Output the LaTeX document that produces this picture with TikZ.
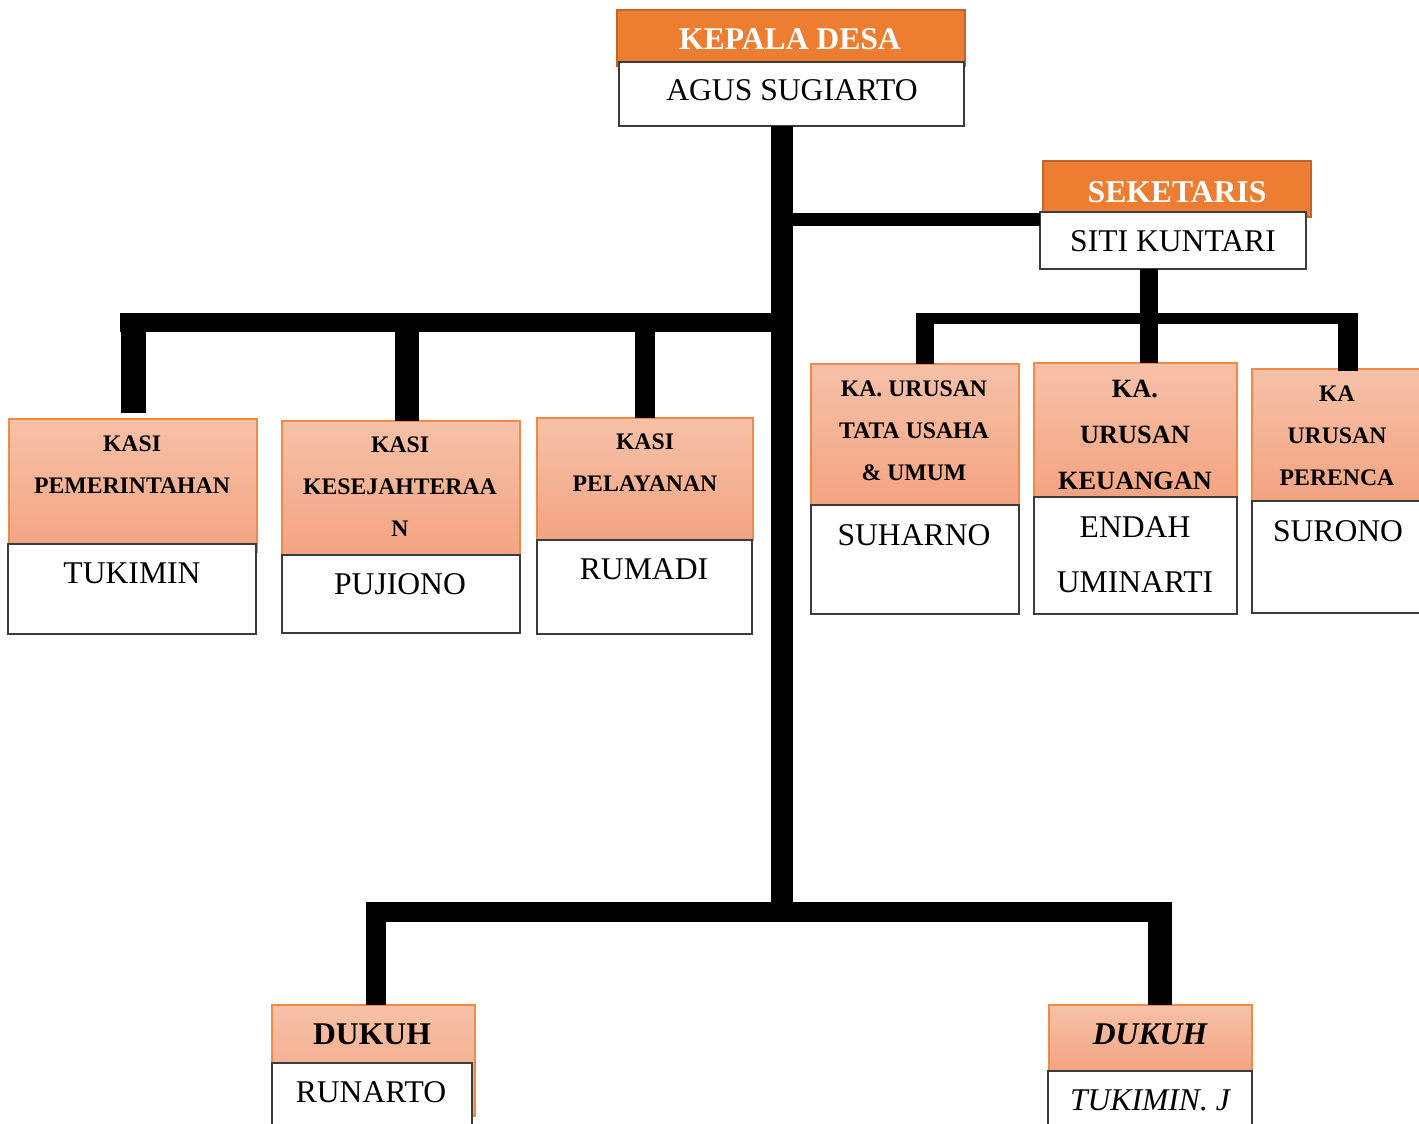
\documentclass[tikz,border=0pt]{standalone}
\usepackage{fontspec}
\setmainfont{Liberation Serif}
\usetikzlibrary{calc}

\definecolor{hdrorange}{HTML}{ED7D31}
\definecolor{hdredge}{HTML}{C0652E}
\definecolor{salmontop}{HTML}{F6C1A8}
\definecolor{salmonbot}{HTML}{F3A482}
\definecolor{salmonedge}{HTML}{F08A45}
\definecolor{boxedge}{HTML}{3C3C3C}

\begin{document}
\begin{tikzpicture}[x=0.02cm, y=-0.02cm,
  sz/.style 2 args={anchor=north west, inner sep=0pt, outer sep=0pt,
    minimum width=#1*0.02cm, minimum height=#2*0.02cm},
  hdrbox/.style={fill=hdrorange, draw=hdredge, line width=1.2pt},
  jabbox/.style={top color=salmontop, bottom color=salmonbot, draw=salmonedge, line width=0.6pt},
  namabox/.style={fill=white, draw=boxedge, line width=0.9pt},
  bar/.style={line width=#1*0.02cm, draw=black},
  hdrlbl/.style={font=\fontsize{18}{22}\selectfont\bfseries, text=white, inner sep=0pt},
  namalbl/.style={font=\fontsize{18}{31.2}\selectfont, align=center, inner sep=0pt},
  jablbl/.style={font=\fontsize{13.5}{23.8}\selectfont\bfseries, align=center, inner sep=0pt},
]
\useasboundingbox (0,0) rectangle (1419,1124);

% Kepala desa dan sekretaris
\node[hdrbox, sz={348}{56}] (kadesH) at (617,10) {};
\node[namabox, sz={345}{64}] (kadesN) at (619,62) {};
\node[hdrbox, sz={268}{56}] (sekH) at (1043,161) {};
\node[namabox, sz={266}{57}] (sekN) at (1040,212) {};

% Kasi
\node[jabbox, sz={248}{133}] (pemH) at (9,419) {};
\node[namabox, sz={248}{90}] (pemN) at (8,544) {};
\node[jabbox, sz={238}{134}] (kesH) at (282,421) {};
\node[namabox, sz={238}{78}] (kesN) at (282,555) {};
\node[jabbox, sz={216}{122}] (pelH) at (537,418) {};
\node[namabox, sz={215}{94}] (pelN) at (537,540) {};

% Kaur
\node[jabbox, sz={208}{141}] (tuH) at (811,364) {};
\node[namabox, sz={208}{109}] (tuN) at (811,505) {};
\node[jabbox, sz={203}{134}] (keuH) at (1034,363) {};
\node[namabox, sz={203}{117}] (keuN) at (1034,497) {};
\node[jabbox, sz={180}{132}] (perH) at (1252,369) {};
\node[namabox, sz={180}{112}] (perN) at (1252,501) {};

% Dukuh
\node[jabbox, sz={203}{111}] (dk1H) at (272,1005) {};
\node[namabox, sz={200}{70}] (dk1N) at (272,1063) {};
\node[jabbox, sz={203}{66}] (dk2H) at (1049,1005) {};
\node[namabox, sz={204}{70}] (dk2N) at (1048,1071) {};

% Labels
\node[hdrlbl] (kadesL) at (790,39) {KEPALA DESA};
\node[namalbl] (agus) at (792,90) {AGUS SUGIARTO};
\node[hdrlbl] (sekL) at (1177,192) {SEKETARIS};
\node[namalbl] (siti) at (1173,241) {SITI KUNTARI};

\node[jablbl] (pemL) at (132,464.5) {KASI\\PEMERINTAHAN};
\node[namalbl] (tukimin) at (132,573) {TUKIMIN};
\node[jablbl] (kesL) at (400,486.5) {KASI\\KESEJAHTERAA\\N};
\node[namalbl] (pujiono) at (400,584) {PUJIONO};
\node[jablbl] (pelL) at (645,462.5) {KASI\\PELAYANAN};
\node[namalbl] (rumadi) at (644,569) {RUMADI};

\node[jablbl] (tuL) at (914,430.5) {KA. URUSAN\\TATA USAHA\\\& UMUM};
\node[namalbl] (suharno) at (914,535) {SUHARNO};
\node[jablbl, font=\fontsize{15}{26}\selectfont\bfseries] (keuL) at (1135,435) {KA.\\URUSAN\\KEUANGAN};
\node[namalbl] (endah) at (1135,554.5) {ENDAH\\UMINARTI};
\node[jablbl] (perL) at (1337,435.5) {KA\\URUSAN\\PERENCA};
\node[namalbl] (surono) at (1338,531) {SURONO};

\node[namalbl, font=\fontsize{18}{22}\selectfont\bfseries] (dk1L) at (372,1034) {DUKUH};
\node[namalbl] (runarto) at (371,1092) {RUNARTO};
\node[namalbl, font=\fontsize{18}{22}\selectfont\bfseries\itshape] (dk2L) at (1150,1034) {DUKUH};
\node[namalbl, font=\fontsize{18}{22}\selectfont\itshape] (tukiminj) at (1150,1100) {TUKIMIN. J};

% Junctions
\coordinate (jSek) at (782,219.5);
\coordinate (jMid) at (782,322.5);
\coordinate (jBot) at (782,922);
\coordinate (jL) at (120,322.5);
\coordinate (jKes) at (407,322.5);
\coordinate (jBL) at (376,912);
\coordinate (jBR) at (1160,912);
\coordinate (jK) at (1149,318.5);
\coordinate (jRL) at (916,318.5);
\coordinate (jTu) at (925,318.5);
\coordinate (jPer) at (1348,318.5);
\coordinate (jRR) at (1358,318.5);

% Trunk
\draw[bar=22] (kadesN.south -| jMid) -- (jBot);
\draw[bar=13] (jSek) -- (jSek -| sekN.west);

% Left branch
\draw[bar=19] (jL) -- (jMid);
\draw[bar=25] ([yshift=0.12cm]pemH.north) -- (pemH.north |- jMid);
\draw[bar=24] (kesH.north -| jKes) -- (jKes);
\draw[bar=20] (pelH.north) -- (pelH.north |- jMid);

% Right branch
\draw[bar=18] (sekN.south -| jK) -- (keuH.north -| jK);
\draw[bar=11] (jRL) -- (jRR);
\draw[bar=18] (jTu) -- (tuH.north -| jTu);
\draw[bar=20] ([yshift=0.11cm]jPer) -- ([yshift=-0.04cm]perH.north -| jPer);

% Bottom branch
\draw[bar=20] (dk1H.north -| jBL) |- (jBR);
\draw[bar=24] ([yshift=0.2cm]jBR) -- (dk2H.north -| jBR);

\end{tikzpicture}
\end{document}
